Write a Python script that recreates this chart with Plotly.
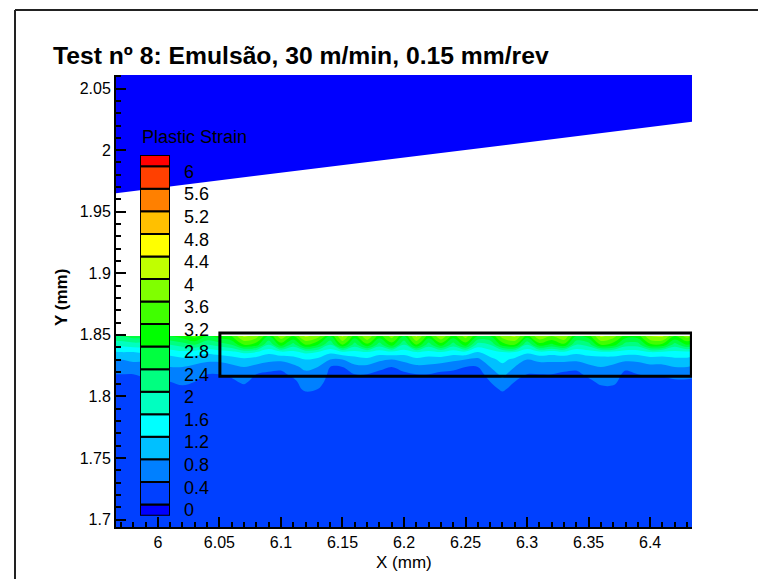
import plotly.graph_objects as go

TITLE = "Test nº 8: Emulsão, 30 m/min, 0.15 mm/rev"
LEGEND_TITLE = "Plastic Strain"
X_TITLE = "X (mm)"
Y_TITLE = "Y (mm)"
FONT = "Liberation Sans, Arial, sans-serif"

# legend levels (label per swatch) and swatch colours (17 bands, 0 .. >6)
level_labels = ["0", "0.4", "0.8", "1.2", "1.6", "2", "2.4", "2.8", "3.2",
                "3.6", "4", "4.4", "4.8", "5.2", "5.6", "6"]
level_colors = ["#0000FF", "#0040FF", "#0080FF", "#00C0FF", "#00FFFF", "#00FFC0",
                "#00FF80", "#00FF40", "#00FF00", "#40FF00", "#80FF00", "#C0FF00",
                "#FFFF00", "#FFC000", "#FF8000", "#FF4000", "#FF0000"]

x_tick_vals = [6.0, 6.05, 6.1, 6.15, 6.2, 6.25, 6.3, 6.35, 6.4]
x_tick_text = ["6", "6.05", "6.1", "6.15", "6.2", "6.25", "6.3", "6.35", "6.4"]
y_tick_vals = [1.7, 1.75, 1.8, 1.85, 1.9, 1.95, 2.0, 2.05]
y_tick_text = ["1.7", "1.75", "1.8", "1.85", "1.9", "1.95", "2", "2.05"]

# tool (upper blue body, strain 0)
tool_x = [5.96, 6.44, 6.44, 5.96]
tool_y = [1.9643, 2.0237, 2.07, 2.07]

# workpiece plastic strain field
grid_x = [5.96, 5.97, 5.98, 5.99, 6.00, 6.01, 6.02, 6.03, 6.04, 6.05, 6.06, 6.07, 6.08,
          6.09, 6.10, 6.11, 6.12, 6.13, 6.14, 6.15, 6.16, 6.17, 6.18, 6.19, 6.20, 6.21,
          6.22, 6.23, 6.24, 6.25, 6.26, 6.27, 6.28, 6.29, 6.30, 6.31, 6.32, 6.33, 6.34,
          6.35, 6.36, 6.37, 6.38, 6.39, 6.40, 6.41, 6.42, 6.43, 6.44]
grid_y = [1.690, 1.800, 1.806, 1.812, 1.818, 1.824, 1.830, 1.836, 1.842, 1.849]

strain_1690 = [0.4, 0.4, 0.4, 0.4, 0.4, 0.4, 0.4, 0.4, 0.4, 0.4, 0.4, 0.4, 0.4,
               0.4, 0.4, 0.4, 0.4, 0.4, 0.4, 0.4, 0.4, 0.4, 0.4, 0.4, 0.4, 0.4,
               0.4, 0.4, 0.4, 0.4, 0.4, 0.4, 0.4, 0.4, 0.4, 0.4, 0.4, 0.4, 0.4,
               0.4, 0.4, 0.4, 0.4, 0.4, 0.4, 0.4, 0.4, 0.4, 0.4]
strain_1800 = [0.4, 0.4, 0.4, 0.4, 0.4, 0.4, 0.4, 0.4, 0.4, 0.4, 0.4, 0.4, 0.4,
               0.4, 0.4, 0.4, 0.4, 0.4, 0.4, 0.4, 0.4, 0.4, 0.4, 0.4, 0.4, 0.4,
               0.4, 0.4, 0.4, 0.4, 0.4, 0.4, 0.4, 0.4, 0.4, 0.4, 0.4, 0.4, 0.4,
               0.4, 0.4, 0.4, 0.4, 0.4, 0.4, 0.4, 0.4, 0.4, 0.4]
strain_1806 = [0.4, 0.4, 0.4, 0.4, 0.4, 0.4, 0.5, 0.4, 0.4, 0.4, 0.4, 0.4, 0.4,
               0.4, 0.4, 0.4, 0.7, 0.6, 0.4, 0.4, 0.4, 0.4, 0.4, 0.4, 0.4, 0.4,
               0.4, 0.4, 0.4, 0.4, 0.4, 0.4, 0.7, 0.4, 0.4, 0.4, 0.4, 0.4, 0.4,
               0.4, 0.5, 0.5, 0.4, 0.4, 0.4, 0.4, 0.4, 0.4, 0.4]
strain_1812 = [0.4, 0.4, 0.4, 0.5, 0.5, 0.6, 0.7, 0.6, 0.4, 0.4, 0.5, 0.7, 0.4,
               0.4, 0.4, 0.5, 0.8, 0.8, 0.4, 0.4, 0.4, 0.4, 0.4, 0.4, 0.4, 0.4,
               0.4, 0.4, 0.4, 0.4, 0.4, 0.6, 0.9, 0.6, 0.4, 0.4, 0.4, 0.4, 0.4,
               0.5, 0.7, 0.7, 0.4, 0.4, 0.4, 0.4, 0.5, 0.5, 0.4]
strain_1818 = [0.6, 0.6, 0.6, 0.7, 0.7, 0.8, 0.9, 0.8, 0.6, 0.6, 0.7, 0.8, 0.6,
               0.5, 0.5, 0.7, 0.9, 0.9, 0.5, 0.4, 0.6, 0.6, 0.5, 0.4, 0.5, 0.6,
               0.6, 0.5, 0.5, 0.4, 0.4, 0.8, 1.1, 0.8, 0.6, 0.6, 0.6, 0.5, 0.5,
               0.7, 0.8, 0.8, 0.5, 0.6, 0.7, 0.7, 0.8, 0.8, 0.7]
strain_1824 = [0.8, 0.8, 0.8, 0.8, 0.9, 1.0, 1.0, 0.9, 0.8, 0.8, 0.9, 1.0, 0.9,
               0.8, 0.7, 0.9, 1.1, 1.0, 0.6, 0.6, 0.9, 0.9, 0.7, 0.6, 0.8, 0.9,
               0.9, 0.8, 0.7, 0.6, 0.6, 1.0, 1.3, 1.0, 0.8, 0.8, 0.8, 0.8, 0.7,
               0.9, 1.0, 0.9, 0.7, 0.8, 0.9, 0.9, 1.0, 1.0, 0.9]
strain_1830 = [1.0, 1.0, 1.1, 1.1, 1.2, 1.2, 1.3, 1.2, 1.1, 1.1, 1.2, 1.3, 1.2,
               1.1, 1.1, 1.2, 1.4, 1.3, 1.0, 1.0, 1.2, 1.3, 1.1, 1.0, 1.1, 1.3,
               1.2, 1.2, 1.1, 1.0, 0.9, 1.3, 1.5, 1.3, 1.0, 1.1, 1.1, 1.1, 1.1,
               1.2, 1.2, 1.2, 1.1, 1.1, 1.2, 1.2, 1.3, 1.3, 1.2]
strain_1836 = [1.3, 1.4, 1.4, 1.5, 1.6, 1.6, 1.7, 1.6, 1.5, 1.6, 1.7, 1.9, 1.8,
               1.5, 1.7, 1.7, 1.9, 1.8, 1.5, 1.7, 1.7, 1.8, 1.6, 1.7, 1.6, 1.8,
               1.7, 1.8, 1.6, 1.7, 1.4, 1.6, 1.8, 1.8, 1.5, 1.7, 1.6, 1.7, 1.5,
               1.6, 1.7, 1.7, 1.6, 1.6, 1.8, 1.7, 1.7, 1.7, 1.6]
strain_1842 = [1.8, 1.9, 2.0, 2.0, 2.2, 2.2, 2.4, 2.6, 2.2, 2.4, 2.6, 3.4, 3.2,
               2.2, 3.2, 2.4, 3.4, 3.0, 2.2, 3.4, 2.4, 3.3, 2.4, 3.2, 2.2, 3.4,
               2.4, 3.2, 2.4, 3.2, 2.0, 2.2, 3.2, 3.4, 2.2, 3.2, 2.9, 3.3, 2.2,
               2.4, 3.4, 3.2, 2.4, 2.4, 3.3, 3.3, 2.4, 3.0, 2.4]
strain_1849 = [2.6, 2.6, 2.8, 2.8, 3.0, 3.0, 3.2, 3.6, 3.0, 3.2, 3.4, 4.3, 4.0,
               3.0, 4.1, 3.4, 4.3, 4.0, 3.0, 4.3, 3.2, 4.2, 3.2, 4.0, 3.0, 4.3,
               3.2, 4.2, 3.2, 4.0, 3.0, 3.0, 4.0, 4.3, 3.2, 4.2, 3.8, 4.2, 3.0,
               3.2, 4.3, 4.0, 3.2, 3.2, 4.2, 4.3, 3.4, 4.0, 3.4]

strain_rows = [strain_1690, strain_1800, strain_1806, strain_1812, strain_1818,
               strain_1824, strain_1830, strain_1836, strain_1842, strain_1849]

# highlighted zone
box_x = [6.0504, 6.4335]
box_y = [1.8163, 1.8515]

n_sw = len(level_colors)
colorscale = [[k / (n_sw - 1), c] for k, c in enumerate(level_colors)]

fig = go.Figure()

fig.add_trace(go.Contour(
    x=grid_x, y=grid_y, z=strain_rows,
    colorscale=colorscale, autocontour=False,
    contours=dict(start=0.2, end=6.2, size=0.4, coloring="fill", showlines=False),
    line=dict(width=0), showscale=False, hoverinfo="skip",
))

fig.add_trace(go.Scatter(
    x=tool_x, y=tool_y, fill="toself", mode="lines",
    fillcolor=level_colors[0], line=dict(width=0, color=level_colors[0]),
    hoverinfo="skip", showlegend=False,
))

# legend swatches (half swatches at both ends)
heights, bases = [], []
for k in range(n_sw):
    lo = max(k - 0.5, 0)
    hi = min(k + 0.5, n_sw - 1)
    bases.append(lo)
    heights.append(hi - lo)
fig.add_trace(go.Bar(
    x=[0] * n_sw, y=heights, base=bases, width=1,
    marker=dict(color=level_colors, line=dict(color="black", width=2)),
    xaxis="x2", yaxis="y2", cliponaxis=False, hoverinfo="skip", showlegend=False,
))

# the page has an 8 px body margin: work in reference pixels and shift,
# keeping the figure inside the window so nothing overflows
OFF = 8
W, H = 766 - 2 * OFF, 587 - 2 * OFF
PL, PR, PT, PB = 116, 692, 75, 527          # plot area in reference pixels
L, R, T, B = PL - OFF, W - (PR - OFF), PT - OFF, H - (PB - OFF)
pw, ph = PR - PL, PB - PT


def px(xp):
    return (xp - PL) / pw


def py(yp):
    return (PB - yp) / ph


annotations = []
for k, lab in enumerate(level_labels):
    annotations.append(dict(
        text=lab, xref="paper", yref="y2", x=px(182), y=k + 0.25,
        xanchor="left", yanchor="middle", showarrow=False,
        font=dict(family=FONT, size=18, color="black")))
annotations.append(dict(
    text=LEGEND_TITLE, xref="paper", yref="paper", x=px(140), y=py(137),
    xanchor="left", yanchor="middle", showarrow=False,
    font=dict(family=FONT, size=18, color="black")))
annotations.append(dict(
    text=X_TITLE, xref="paper", yref="paper", x=0.5, y=py(562),
    xanchor="center", yanchor="middle", showarrow=False,
    font=dict(family=FONT, size=17, color="black")))
annotations.append(dict(
    text=Y_TITLE, xref="paper", yref="paper", x=px(61), y=py(298), textangle=-90,
    xanchor="center", yanchor="middle", showarrow=False,
    font=dict(family=FONT, size=17, color="black", weight="bold")))

shapes = [
    dict(type="rect", xref="x", yref="y", x0=box_x[0], x1=box_x[1], y0=box_y[0], y1=box_y[1],
         line=dict(color="black", width=3), layer="above"),
    dict(type="line", xref="paper", yref="paper", x0=px(15), x1=px(758), y0=py(10), y1=py(10),
         line=dict(color="#222222", width=2)),
    dict(type="line", xref="paper", yref="paper", x0=px(15), x1=px(15), y0=py(10), y1=py(579),
         line=dict(color="#222222", width=2)),
]

axis_common = dict(
    showgrid=False, zeroline=False, showline=True, linecolor="black", linewidth=2,
    ticks="inside", ticklen=10, tickwidth=1.5, tickcolor="black",
    tickfont=dict(family=FONT, size=16, color="black"),
)

fig.update_layout(
    width=W, height=H,
    margin=dict(l=L, r=R, t=T, b=B, autoexpand=False),
    paper_bgcolor="white", plot_bgcolor="rgba(0,0,0,0)",
    showlegend=False,
    title=dict(text=TITLE, x=(53 - OFF) / W, xref="container", xanchor="left",
               y=1 - (55 - OFF) / H, yref="container", yanchor="middle",
               font=dict(family=FONT, size=24.7, color="black", weight="bold")),
    xaxis=dict(range=[5.966, 6.434], tickmode="array", tickvals=x_tick_vals,
               ticktext=x_tick_text,
               minor=dict(tickmode="linear", tick0=6.0, dtick=0.01, ticks="inside",
                          ticklen=5, tickwidth=1.5, tickcolor="black", showgrid=False),
               **axis_common),
    yaxis=dict(range=[1.694, 2.061], tickmode="array", tickvals=y_tick_vals,
               ticktext=y_tick_text,
               minor=dict(tickmode="linear", tick0=1.7, dtick=0.01, ticks="inside",
                          ticklen=5, tickwidth=1.5, tickcolor="black", showgrid=False),
               **axis_common),
    xaxis2=dict(domain=[px(140), px(170)], range=[-0.5, 0.5], anchor="y2", visible=False),
    yaxis2=dict(domain=[py(515.7), py(155)], range=[0, n_sw - 1], anchor="x2", visible=False),
    annotations=annotations,
    shapes=shapes,
)

fig.write_html("out.html")
